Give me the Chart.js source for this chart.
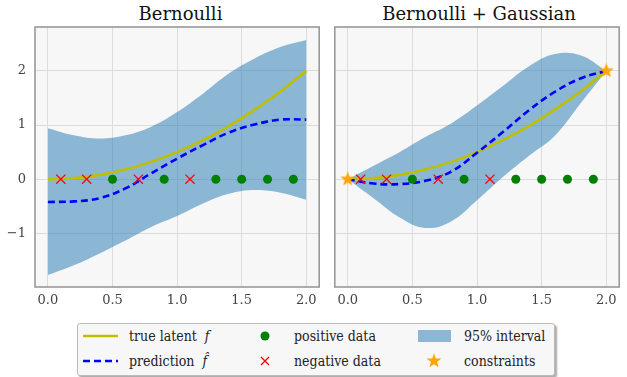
<!DOCTYPE html>
<html>
<head>
<meta charset="utf-8">
<script src="https://cdn.jsdelivr.net/npm/chart.js@4.4.0/dist/chart.umd.min.js"></script>
<style>
  body { margin: 0; background: #fff; width: 627px; height: 377px; overflow: hidden; position: relative; font-family: "DejaVu Serif", serif; }
  canvas { position: absolute; top: 0; }
  .title { position: absolute; top: 0; font-size: 18px; line-height: 28px; text-align: center; color: #111; }
  #legend { position: absolute; left: 77px; top: 323px; width: 476px; height: 51px; background: #f7f7f7; border: 1px solid #bbb; border-radius: 3px; box-shadow: 2px 2px 2px #aaa; }
  #legend svg { position: absolute; left: 0; top: 0; }
  .lt { position: absolute; font-size: 14px; font-stretch: condensed; line-height: 20px; color: #222; white-space: nowrap; }
</style>
</head>
<body>
<div class="title" style="left:35px;width:291px">Bernoulli</div>
<div class="title" style="left:333px;width:292px">Bernoulli + Gaussian</div>
<canvas id="left" width="327" height="310" style="left:0"></canvas>
<canvas id="right" width="300" height="310" style="left:327px"></canvas>

<div id="legend">
  <svg width="476" height="51">
    <line x1="5" y1="12" x2="40" y2="12" stroke="#bfbf00" stroke-width="2.5"/>
    <line x1="5" y1="37" x2="40" y2="37" stroke="#0000ff" stroke-width="2.5" stroke-dasharray="7,4"/>
    <circle cx="187" cy="12" r="4.5" fill="#008000"/>
    <path d="M183 33 L191 41 M191 33 L183 41" stroke="#ff0000" stroke-width="1.3"/>
    <rect x="340" y="6" width="33" height="12" fill="rgba(31,119,180,0.5)"/>
    <polygon id="lstar" fill="#ffa500"/>
  </svg>
  <span class="lt" style="left:51px;top:2px">true latent&nbsp; <i>f</i></span>
  <span class="lt" style="left:51px;top:27px">prediction&nbsp; <i>f&#770;</i></span>
  <span class="lt" style="left:216px;top:2px">positive data</span>
  <span class="lt" style="left:216px;top:27px">negative data</span>
  <span class="lt" style="left:386px;top:2px">95% interval</span>
  <span class="lt" style="left:386px;top:27px">constraints</span>
</div>

<script>
// grid of x positions the curves were read at
const XS = [0, 0.2, 0.4, 0.6, 0.8, 1.0, 1.2, 1.4, 1.6, 1.8, 2.0];
const TRUE_F = [0, 0.02, 0.08, 0.18, 0.32, 0.5, 0.72, 0.98, 1.28, 1.62, 2.0];

// Bernoulli only
const BERN_MEAN = [-0.42, -0.41, -0.35, -0.17, 0.11, 0.38, 0.63, 0.86, 1.01, 1.10, 1.10];
const BERN_UPPER = [0.94, 0.81, 0.75, 0.81, 0.97, 1.24, 1.58, 1.95, 2.23, 2.44, 2.57];
const BERN_LOWER = [-1.77, -1.59, -1.37, -1.13, -0.88, -0.68, -0.45, -0.27, -0.20, -0.25, -0.38];

// Bernoulli + Gaussian
const BG_MEAN = [0, -0.08, -0.09, -0.03, 0.14, 0.49, 0.87, 1.27, 1.61, 1.86, 2.0];
const BG_UPPER = [0, 0.25, 0.50, 0.78, 1.03, 1.36, 1.72, 2.08, 2.31, 2.29, 2.0];
const BG_LOWER = [0, -0.35, -0.70, -0.90, -0.78, -0.39, 0.04, 0.43, 0.80, 1.40, 2.0];

const POS_X = [0.5, 0.9, 1.3, 1.5, 1.7, 1.9];
const NEG_X = [0.1, 0.3, 0.7, 1.1];
const STAR_X = [0, 2];
const STAR_Y = [0, 2];

const XTICKS = [0, 0.5, 1, 1.5, 2];
const XTICK_LABELS = ["0.0", "0.5", "1.0", "1.5", "2.0"];
const YTICKS = [-1, 0, 1, 2];
const YTICK_LABELS = ["\u22121", "0", "1", "2"];

const SERIF = '"DejaVu Serif", serif';
const pts = (xs, ys) => xs.map((x, i) => ({ x: x, y: ys ? ys[i] : 0 }));

// filled star marker
const star = document.createElement("canvas");
star.width = star.height = 16;
const sc = star.getContext("2d");
sc.fillStyle = "#ffa500";
sc.beginPath();
const lp = [];
for (let i = 0; i < 10; i++) {
  const r = i % 2 ? 3.2 : 7.8;
  const a = -Math.PI / 2 + i * Math.PI / 5;
  sc.lineTo(8 + r * Math.cos(a), 8 + r * Math.sin(a));
  lp.push((356 + r * Math.cos(a)).toFixed(2) + "," + (37 + r * Math.sin(a)).toFixed(2));
}
sc.closePath();
sc.fill();
document.getElementById("lstar").setAttribute("points", lp.join(" "));

const frame = {
  id: "frame",
  beforeDraw(chart) {
    const a = chart.chartArea, ctx = chart.ctx;
    ctx.save();
    ctx.fillStyle = "#f7f7f7";
    ctx.fillRect(a.left, a.top, a.right - a.left, a.bottom - a.top);
    ctx.restore();
  },
  afterDraw(chart) {
    const a = chart.chartArea, ctx = chart.ctx;
    ctx.save();
    ctx.strokeStyle = "#999";
    ctx.lineWidth = 1.6;
    ctx.strokeRect(a.left, a.top, a.right - a.left, a.bottom - a.top);
    ctx.restore();
  }
};

function makeChart(id, mean, upper, lower, withY, withStars) {
  const datasets = [
    { data: pts(POS_X), showLine: false, pointStyle: "circle", pointRadius: 4.5, pointBackgroundColor: "#008000", pointBorderWidth: 0, order: 0 },
    { data: pts(NEG_X), showLine: false, pointStyle: "crossRot", pointRadius: 6.5, pointBorderColor: "#ff0000", pointBorderWidth: 1.3, order: 0 },
    { data: pts(XS, mean), borderColor: "#0000ff", borderWidth: 2.6, borderDash: [7, 4], pointRadius: 0, tension: 0.4, order: 1 },
    { data: pts(XS, TRUE_F), borderColor: "#bfbf00", borderWidth: 2.6, pointRadius: 0, tension: 0.4, order: 2 },
    { data: pts(XS, upper), borderWidth: 0, pointRadius: 0, fill: "+1", backgroundColor: "rgba(31,119,180,0.5)", tension: 0.4, order: 3 },
    { data: pts(XS, lower), borderWidth: 0, pointRadius: 0, fill: false, tension: 0.4, order: 4 }
  ];
  if (withStars) {
    datasets.unshift({ data: pts(STAR_X, STAR_Y), showLine: false, pointStyle: star, order: -1 });
  }
  const tickFont = { family: SERIF, size: 13 };
  return new Chart(document.getElementById(id), {
    type: "line",
    data: { datasets: datasets },
    options: {
      responsive: false,
      animation: false,
      devicePixelRatio: 1,
      layout: { padding: { top: 27, right: withY ? 1 : 2, left: 0, bottom: 0 } },
      plugins: { legend: { display: false }, tooltip: { enabled: false } },
      scales: {
        x: {
          type: "linear", min: -0.1, max: 2.1,
          afterBuildTicks: s => { s.ticks = XTICKS.map(v => ({ value: v })); },
          afterFit: s => { s.height = 23; },
          ticks: { callback: (v, i) => XTICK_LABELS[i], color: "#444", font: tickFont, padding: 6, maxRotation: 0 },
          grid: { color: "#dcdcdc", drawTicks: false },
          border: { display: false }
        },
        y: {
          type: "linear", min: -1.99, max: 2.81,
          afterBuildTicks: s => { s.ticks = YTICKS.map(v => ({ value: v })); },
          afterFit: s => { s.width = withY ? 35 : 6; },
          ticks: { display: withY, callback: (v, i) => YTICK_LABELS[i], color: "#444", font: tickFont, padding: 9 },
          grid: { color: "#dcdcdc", drawTicks: false },
          border: { display: false }
        }
      }
    },
    plugins: [frame]
  });
}

makeChart("left", BERN_MEAN, BERN_UPPER, BERN_LOWER, true, false);
makeChart("right", BG_MEAN, BG_UPPER, BG_LOWER, false, true);
</script>
</body>
</html>
